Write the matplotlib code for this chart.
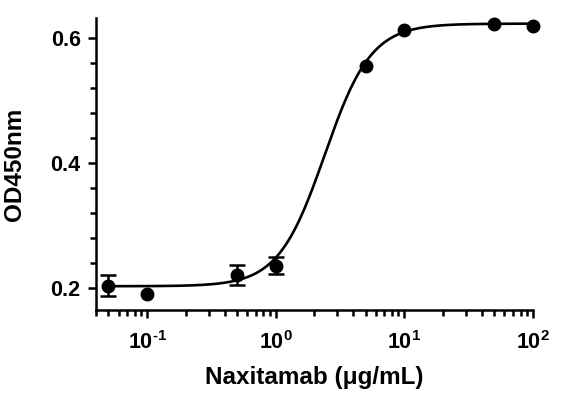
import numpy as np
import matplotlib
matplotlib.use("Agg")
import matplotlib.pyplot as plt
from matplotlib.ticker import FixedLocator, LogLocator, NullFormatter

# measured points (0 = no error bar drawn)
conc = [0.05, 0.1, 0.5, 1, 5, 10, 50, 100]
od450 = [0.204, 0.191, 0.221, 0.236, 0.555, 0.613, 0.622, 0.620]
od_err = [0.017, 0.0, 0.016, 0.014, 0.0, 0.0, 0.0, 0.0]

# 4PL fit parameters
fit_bottom = 0.203
fit_top = 0.623
fit_ec50 = 2.4
fit_hill = 2.4

x_ticks = [0.1, 1, 10, 100]
x_ticklabels = [r"$\mathbf{10^{\text{-}1}}$", r"$\mathbf{10^{0}}$", r"$\mathbf{10^{1}}$", r"$\mathbf{10^{2}}$"]
y_ticks = [0.2, 0.4, 0.6]
y_ticklabels = ["0.2", "0.4", "0.6"]

plt.rcParams["font.family"] = "Liberation Sans"
plt.rcParams["font.weight"] = "bold"
plt.rcParams["mathtext.fontset"] = "custom"
plt.rcParams["mathtext.rm"] = "Liberation Sans:bold"
plt.rcParams["mathtext.bf"] = "Liberation Sans:bold"

fig = plt.figure(figsize=(5.63, 3.96), dpi=100)
ax = fig.add_axes([0.1705, 0.2172, 0.7762, 0.7373])

xfit = np.logspace(np.log10(0.05), np.log10(100), 300)
yfit = fit_bottom + (fit_top - fit_bottom) / (1 + (fit_ec50 / xfit) ** fit_hill)
ax.plot(xfit, yfit, color="black", lw=1.9, zorder=2, clip_on=False)

ax.plot(conc, od450, "o", color="black", ms=9, zorder=3, clip_on=False)
has_err = [i for i, e in enumerate(od_err) if e > 0]
ax.errorbar([conc[i] for i in has_err], [od450[i] for i in has_err],
            yerr=[od_err[i] for i in has_err], fmt="none", ecolor="black",
            elinewidth=1.8, capsize=5.5, capthick=1.8, zorder=3)

ax.set_xscale("log")
ax.set_xlim(0.04, 100)
ax.set_ylim(0.165, 0.632)

ax.xaxis.set_major_locator(FixedLocator(x_ticks))
ax.set_xticklabels(x_ticklabels)
ax.xaxis.set_minor_locator(LogLocator(base=10, subs=np.arange(2, 10)))
ax.xaxis.set_minor_formatter(NullFormatter())

ax.set_yticks(y_ticks)
ax.set_yticklabels(y_ticklabels)
ax.yaxis.set_minor_locator(FixedLocator([0.24, 0.28, 0.32, 0.36, 0.44, 0.48, 0.52, 0.56]))

for side in ["top", "right"]:
    ax.spines[side].set_visible(False)
for side in ["left", "bottom"]:
    ax.spines[side].set_linewidth(1.8)

ax.tick_params(which="major", length=6, width=1.8, labelsize=15.5, direction="out")
ax.tick_params(which="minor", length=4, width=1.8, direction="out")
ax.tick_params(axis="x", pad=9)
ax.tick_params(axis="y", pad=5)

ax.set_xlabel("Naxitamab (μg/mL)", fontsize=17.5, fontweight="bold", labelpad=9)
ax.set_ylabel("OD450nm", fontsize=17.5, fontweight="bold", labelpad=18)

fig.savefig("out.png", dpi=100)
